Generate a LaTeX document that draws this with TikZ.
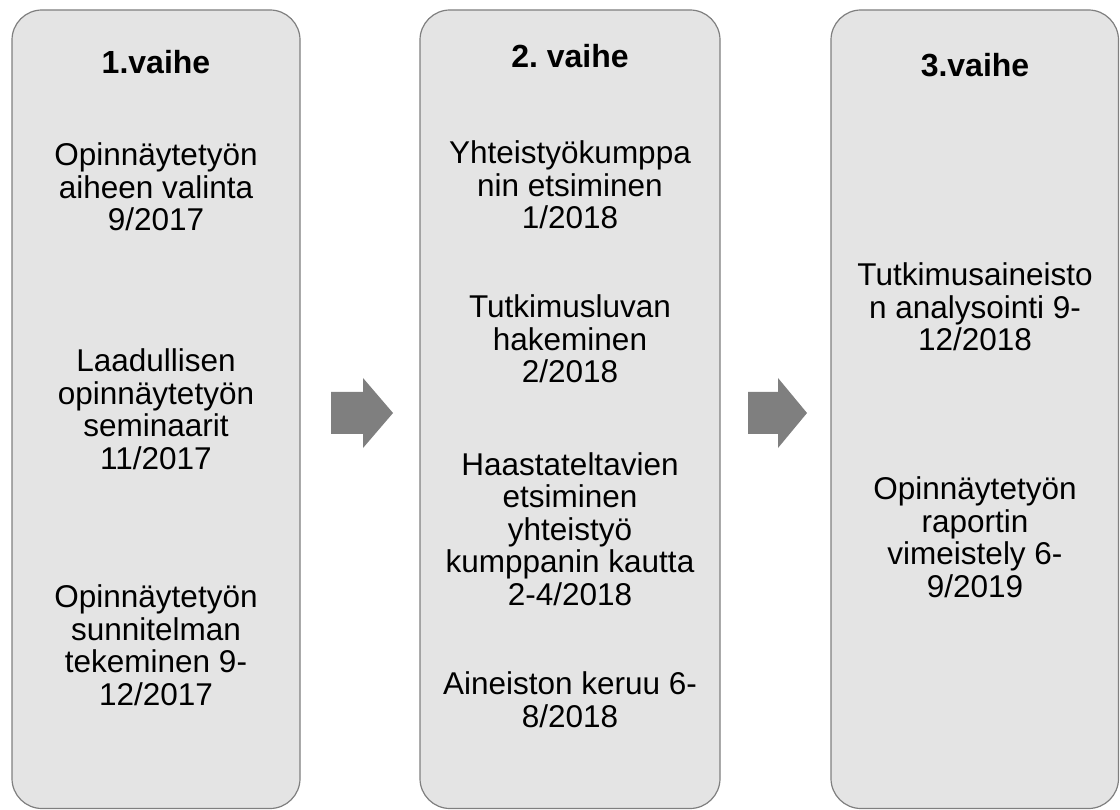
\documentclass[tikz,border=0pt]{standalone}
\usepackage{fontspec}
\setmainfont{Liberation Sans}
\frenchspacing
\begin{document}
\begin{tikzpicture}[x=1pt,y=-1pt,
  phase/.style={draw=boxline, line width=1.2pt, fill=boxfill, rounded corners=30pt},
  title/.style={font=\fontsize{32}{34}\selectfont\bfseries, anchor=base, inner sep=0pt},
  item/.style={font=\fontsize{31.5}{32.5}\selectfont, align=center, anchor=base, inner sep=0pt},
  blockarrow/.style={fill=arrowgray, draw=none}]
\definecolor{boxfill}{HTML}{E4E4E4}
\definecolor{boxline}{HTML}{7F7F7F}
\definecolor{arrowgray}{HTML}{7F7F7F}
\useasboundingbox (0,0) rectangle (1120,810);
% phase boxes
\draw[phase] (12,10) rectangle (300,808.5);
\draw[phase] (420,10) rectangle (720,808.5);
\draw[phase] (831,10) rectangle (1118.5,808.5);
% block arrows
\fill[blockarrow] (331,392) -- (363,392) -- (363,378) -- (393,413) -- (363,448) -- (363,434) -- (331,434) -- cycle;
\fill[blockarrow] (748,392) -- (778,392) -- (778,378) -- (807,413) -- (778,448) -- (778,434) -- (748,434) -- cycle;
% phase 1 (positions are the baselines of the last lines)
\node[title] (t1) at (156,74) {1.vaihe};
\node[item] (p11) at (156,231) {Opinnäytetyön\\aiheen valinta\\9/2017};
\node[item] (p12) at (156,469) {Laadullisen\\opinnäytetyön\\seminaarit\\11/2017};
\node[item] (p13) at (156,705) {Opinnäytetyön\\sunnitelman\\tekeminen 9-\\12/2017};
% phase 2
\node[title] (t2) at (570,68) {2. vaihe};
\node[item] (p21) at (570,229) {Yhteistyökumppa\\nin etsiminen\\1/2018};
\node[item] (p22) at (570,383) {Tutkimusluvan\\hakeminen\\2/2018};
\node[item] (p23) at (570,605) {Haastateltavien\\etsiminen\\yhteistyö\\kumppanin kautta\\2-4/2018};
\node[item] (p24) at (570,727) {Aineiston keruu 6-\\8/2018};
% phase 3
\node[title] (t3) at (975,77) {3.vaihe};
\node[item] (p31) at (975,351) {Tutkimusaineisto\\n analysointi 9-\\12/2018};
\node[item] (p32) at (975,597) {Opinnäytetyön\\raportin\\vimeistely 6-\\9/2019};
\end{tikzpicture}
\end{document}
